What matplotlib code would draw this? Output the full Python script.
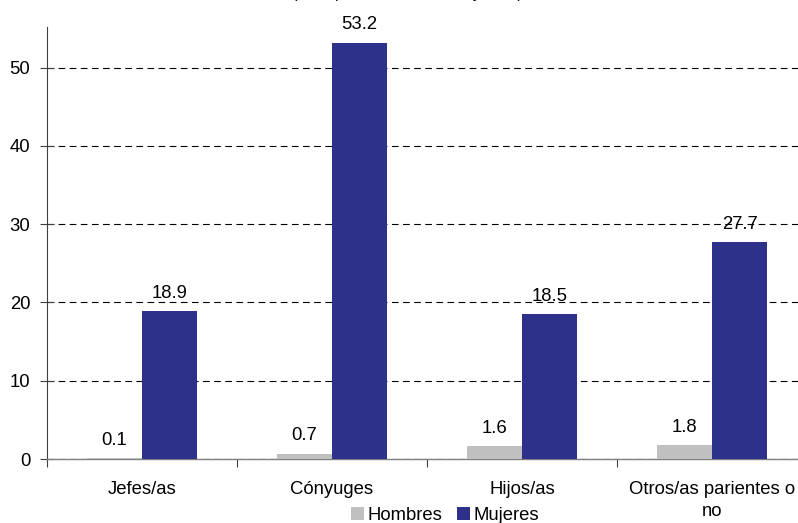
import matplotlib
matplotlib.use("Agg")
import matplotlib.pyplot as plt
import numpy as np

plt.rcParams['font.family'] = ['Liberation Sans', 'DejaVu Sans']

categories = ["Jefes/as", "Cónyuges", "Hijos/as", "Otros/as parientes o\nno"]
hombres = [0.1, 0.7, 1.6, 1.8]
mujeres = [18.9, 53.2, 18.5, 27.7]
series_names = ["Hombres", "Mujeres"]
yticks = [0, 10, 20, 30, 40, 50]

col_h = "#C0C0C0"
col_m = "#2E3189"
fs = 13.3

fig = plt.figure(figsize=(7.98, 5.23), dpi=100)
ax = fig.add_axes([47 / 798, 64 / 523, 760 / 798, 432 / 523])

x = np.arange(len(categories))
w = 0.29
bh = ax.bar(x - w / 2, hombres, w, color=col_h, label=series_names[0], zorder=3)
bm = ax.bar(x + w / 2, mujeres, w, color=col_m, label=series_names[1], zorder=3)

for bars, vals in ((bh, hombres), (bm, mujeres)):
    for b, v in zip(bars, vals):
        ax.annotate(f"{v:.1f}", (b.get_x() + b.get_width() / 2, v),
                    xytext=(0, 9.5), textcoords="offset points",
                    ha="center", va="baseline", fontsize=fs, zorder=2)

ax.set_xlim(-0.5, 3.5)
ax.set_ylim(0, 55.2)
ax.set_yticks(yticks)
ax.tick_params(axis="y", labelsize=fs, direction="inout", length=10,
               width=0.8, color="#404040", pad=7)
ax.yaxis.grid(True, linestyle=(0, (6, 4)), color="black", linewidth=0.8, zorder=1)
ax.set_axisbelow(True)

# category labels centered, tick marks on the boundaries between groups
ax.set_xticks(x)
ax.set_xticklabels(categories, fontsize=fs, linespacing=1.4)
ax.tick_params(axis="x", length=0, pad=15.5)
ax.set_xticks(np.arange(-0.5, 3.6, 1.0), minor=True)
ax.tick_params(axis="x", which="minor", length=6, width=0.8, color="#404040")

for s in ("top", "right"):
    ax.spines[s].set_visible(False)
ax.spines["left"].set_color("#404040")
ax.spines["left"].set_linewidth(0.8)
ax.spines["bottom"].set_color("#808080")
ax.spines["bottom"].set_linewidth(1.0)

fig.text(407 / 798, 1 + 2 / 523, "(en %) Total de 15 años y más)",
         ha="center", va="baseline", fontsize=12)

fig.legend(handles=[bh, bm], labels=series_names, loc="center",
           bbox_to_anchor=(445 / 798, 1 - 515 / 523), ncol=2, frameon=False,
           fontsize=fs, handlelength=0.7, handleheight=0.7,
           handletextpad=0.2, columnspacing=0.8, borderaxespad=0)

fig.savefig("out.png", dpi=100)
